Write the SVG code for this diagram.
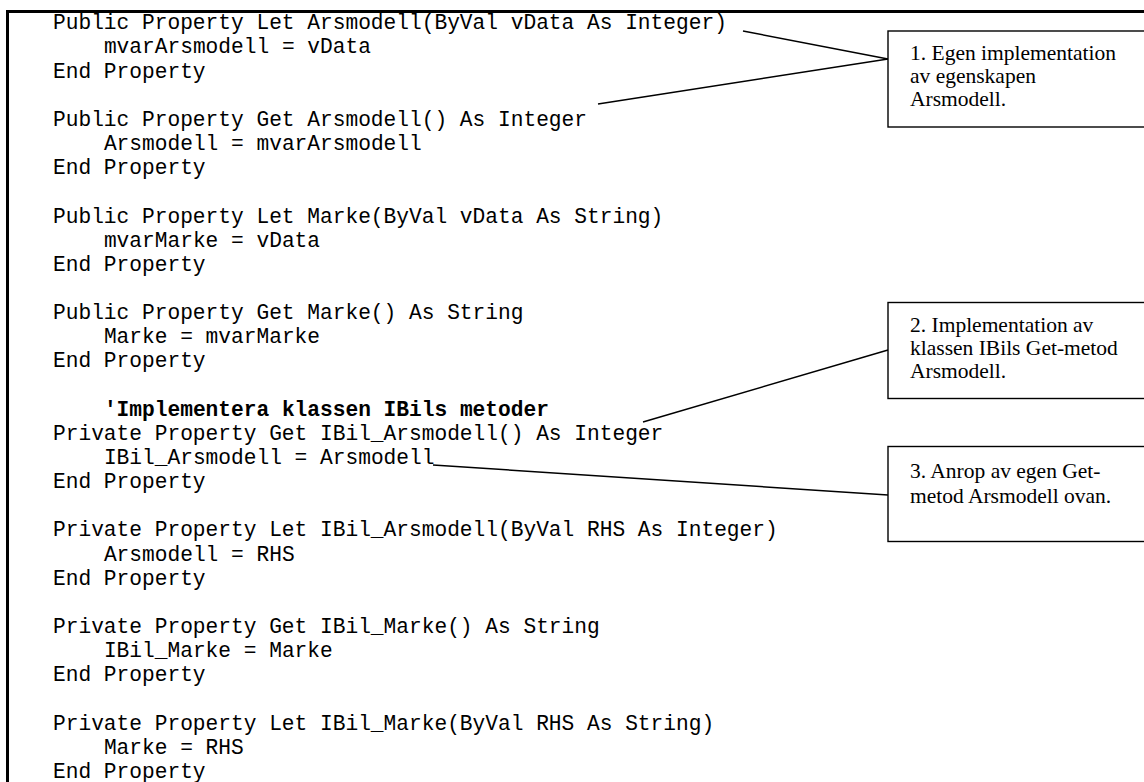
<svg xmlns="http://www.w3.org/2000/svg" width="1144" height="782" viewBox="0 0 1144 782">
<style>
.code{font-family:"Liberation Mono","Courier New",monospace;font-size:21.2px;fill:#000}
.b{font-weight:bold}
.note{font-family:"Liberation Serif","Times New Roman",serif;font-size:21.5px;fill:#000}
.box{fill:#fff;stroke:#000;stroke-width:1.4}
.conn{stroke:#000;stroke-width:1.5;fill:none}
</style>
<rect x="0" y="0" width="1144" height="782" fill="#fff"/>
<rect id="frame" x="7.5" y="11.5" width="1200" height="820" fill="none" stroke="#000" stroke-width="3"/>
<g id="code" class="code">
<text x="53" y="29.3">Public Property Let Arsmodell(ByVal vData As Integer)</text>
<text x="103.9" y="53.45">mvarArsmodell = vData</text>
<text x="53" y="77.6">End Property</text>
<text x="53" y="125.9">Public Property Get Arsmodell() As Integer</text>
<text x="103.9" y="150.05">Arsmodell = mvarArsmodell</text>
<text x="53" y="174.2">End Property</text>
<text x="53" y="222.5">Public Property Let Marke(ByVal vData As String)</text>
<text x="103.9" y="246.65">mvarMarke = vData</text>
<text x="53" y="270.8">End Property</text>
<text x="53" y="319.1">Public Property Get Marke() As String</text>
<text x="103.9" y="343.25">Marke = mvarMarke</text>
<text x="53" y="367.4">End Property</text>
<text x="103.9" y="415.7" class="b">'Implementera klassen IBils metoder</text>
<text x="53" y="439.85">Private Property Get IBil_Arsmodell() As Integer</text>
<text x="103.9" y="464">IBil_Arsmodell = Arsmodell</text>
<text x="53" y="488.15">End Property</text>
<text x="53" y="536.45">Private Property Let IBil_Arsmodell(ByVal RHS As Integer)</text>
<text x="103.9" y="560.6">Arsmodell = RHS</text>
<text x="53" y="584.75">End Property</text>
<text x="53" y="633.05">Private Property Get IBil_Marke() As String</text>
<text x="103.9" y="657.2">IBil_Marke = Marke</text>
<text x="53" y="681.35">End Property</text>
<text x="53" y="729.65">Private Property Let IBil_Marke(ByVal RHS As String)</text>
<text x="103.9" y="753.8">Marke = RHS</text>
<text x="53" y="777.95">End Property</text>
</g>
<g id="connectors">
<line class="conn" x1="743" y1="31" x2="888" y2="59"/>
<line class="conn" x1="598" y1="104" x2="888" y2="59"/>
<line class="conn" x1="643" y1="422" x2="888" y2="350"/>
<line class="conn" x1="433" y1="465" x2="888" y2="495"/>
</g>
<g id="note1">
<rect class="box" x="888" y="31" width="300" height="96"/>
<text class="note" x="910" y="59.5">1. Egen implementation</text>
<text class="note" x="910" y="82.5">av egenskapen</text>
<text class="note" x="910" y="105.5">Arsmodell.</text>
</g>
<g id="note2">
<rect class="box" x="888" y="302.5" width="300" height="96"/>
<text class="note" x="910" y="331.5">2. Implementation av</text>
<text class="note" x="910" y="354.5">klassen IBils Get-metod</text>
<text class="note" x="910" y="377.5">Arsmodell.</text>
</g>
<g id="note3">
<rect class="box" x="888" y="446.5" width="300" height="95"/>
<text class="note" x="910" y="478">3. Anrop av egen Get-</text>
<text class="note" x="910" y="502.5">metod Arsmodell ovan.</text>
</g>
</svg>
